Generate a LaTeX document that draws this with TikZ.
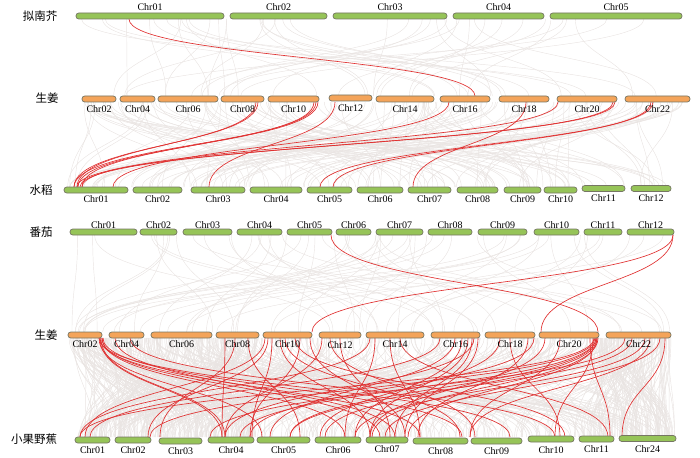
\documentclass[tikz,border=0pt]{standalone}
\usepackage{fontspec}
\setmainfont{Liberation Serif}
\newfontfamily\cjk{Noto Sans CJK SC}
\definecolor{gfill}{RGB}{150,196,88}
\definecolor{ofill}{RGB}{244,164,90}
\definecolor{bline}{RGB}{118,118,100}
\definecolor{glk}{RGB}{233,228,226}
\definecolor{rlk}{RGB}{224,48,48}
\tikzset{
  gbar/.style={draw=bline, fill=gfill, line width=0.7pt, rounded corners=2.8pt, minimum height=6pt, inner sep=0pt},
  obar/.style={draw=bline, fill=ofill, line width=0.7pt, rounded corners=2.8pt, minimum height=6pt, inner sep=0pt},
  lab/.style={font=\fontsize{10}{10}\selectfont, inner sep=0pt},
  sp/.style={font=\cjk\fontsize{11.5}{11.5}\selectfont, inner sep=0pt},
  glink/.style={draw=glk, line width=0.45pt},
  rlink/.style={draw=rlk, line width=0.65pt}
}
\newcommand\chrbar[7]{%
  \pgfmathsetmacro\bw{#3-#2}\pgfmathsetmacro\bc{(#2+#3)/2}%
  \node[#5, minimum width=\bw pt] (#1) at (\bc,#4) {};
  \node[lab] (#1l) at ({\bc},{#4+#7}) {#6};
}
\newcommand\lnk[5]{%
  \draw[#1] (#2,#3) .. controls (#2,{(#3+#5)/2}) and (#4,{(#3+#5)/2}) .. (#4,#5);
}
\begin{document}
\begin{tikzpicture}[x=1pt,y=-1pt]
\useasboundingbox (0,0) rectangle (700,457);
% ---------- gray links ----------
\pgfmathsetseed{11}
\foreach \i in {1,...,45}{
  \pgfmathsetmacro\xa{78+602*rnd}\pgfmathsetmacro\xb{84+604*rnd}
  \lnk{glink}{\xa}{19}{\xb}{96}
}
\foreach \i in {1,...,150}{
  \pgfmathsetmacro\xa{84+604*rnd}\pgfmathsetmacro\xb{66+603*rnd}
  \lnk{glink}{\xa}{102}{\xb}{187}
}
\foreach \i in {1,...,65}{
  \pgfmathsetmacro\xa{72+600*rnd}\pgfmathsetmacro\xb{70+600*rnd}
  \lnk{glink}{\xa}{235}{\xb}{332}
}
\foreach \i in {1,...,330}{
  \pgfmathsetmacro\xa{70+600*rnd}\pgfmathsetmacro\xb{77+597*rnd}
  \lnk{glink}{\xa}{338}{\xb}{437}
}
\foreach \i in {1,...,190}{
  \pgfmathsetmacro\xa{68+190*rnd}\pgfmathsetmacro\xb{76+180*rnd}
  \lnk{glink}{\xa}{338}{\xb}{437}
}
\foreach \i in {1,...,100}{
  \pgfmathsetmacro\xa{590+82*rnd}\pgfmathsetmacro\xb{580+95*rnd}
  \lnk{glink}{\xa}{338}{\xb}{437}
}
% ---------- red links ----------
% Arabidopsis - ginger
\lnk{rlink}{129}{19}{475}{96}
% ginger - rice
\lnk{rlink}{258}{102}{74}{187}
\lnk{rlink}{256}{102}{77}{187}
\lnk{rlink}{316}{102}{74}{187}
\lnk{rlink}{318}{102}{78}{187}
\lnk{rlink}{314}{102}{82}{187}
\lnk{rlink}{335}{102}{209}{187}
\lnk{rlink}{449}{102}{113}{187}
\lnk{rlink}{526}{102}{413}{187}
\lnk{rlink}{558}{102}{82}{187}
\lnk{rlink}{615}{102}{77}{187}
\lnk{rlink}{613}{102}{80}{187}
\lnk{rlink}{653}{102}{320}{187}
\lnk{rlink}{651}{102}{333}{187}
% tomato - ginger
\lnk{rlink}{331}{235}{598}{332}
\lnk{rlink}{673}{235}{312}{332}
\lnk{rlink}{673}{235}{541}{332}
% ginger - banana
\foreach \a/\b in {100/222,101/225,102/380,100/420,103/462,99/510,115/395,130/555,
  235/160,225/222,248/300,265/85,268/148,272/252,280/370,285/460,295/565,300/250,
  310/405,322/225,330/475,340/390,370/80,375/345,390/420,400/608,440/90,455/270,
  462/355,468/370,472/395,478/405,500/320,510/560,528/418,534/250,545/370,560/470,
  594/80,595/150,596/240,597/325,598/372,597/408,593/555,590/610,625/210,632/290,
  645/355,660/385,665/622,650/470,102/345,99/262,474/225,596/290}{
  \lnk{rlink}{\a}{338}{\b}{437}
}
% ---------- species labels ----------
\node[sp] (s1) at (40,16) {拟南芥};
\node[sp] (s2) at (47,98) {生姜};
\node[sp] (s3) at (41,190) {水稻};
\node[sp] (s4) at (41,232) {番茄};
\node[sp] (s5) at (46,335) {生姜};
\node[sp] (s6) at (34,439) {小果野蕉};
% ---------- row 1: Arabidopsis ----------
\chrbar{a1}{76}{224}{16}{gbar}{Chr01}{-9}
\chrbar{a2}{230}{327}{16}{gbar}{Chr02}{-9}
\chrbar{a3}{333}{447}{16}{gbar}{Chr03}{-9}
\chrbar{a4}{453}{544}{16}{gbar}{Chr04}{-9}
\chrbar{a5}{550}{682}{16}{gbar}{Chr05}{-9}
% ---------- row 2: ginger ----------
\chrbar{g02}{82}{116}{99}{obar}{Chr02}{10}
\chrbar{g04}{120}{155}{99}{obar}{Chr04}{10}
\chrbar{g06}{158}{218}{99}{obar}{Chr06}{10}
\chrbar{g08}{221}{264}{99}{obar}{Chr08}{10}
\chrbar{g10}{268}{319}{99}{obar}{Chr10}{10}
\chrbar{g12}{329}{372}{98}{obar}{Chr12}{10}
\chrbar{g14}{376}{434}{99}{obar}{Chr14}{10}
\chrbar{g16}{440}{490}{99}{obar}{Chr16}{10}
\chrbar{g18}{499}{549}{99}{obar}{Chr18}{10}
\chrbar{g20}{557}{617}{99}{obar}{Chr20}{10}
\chrbar{g22}{625}{690}{99}{obar}{Chr22}{10}
% ---------- row 3: rice ----------
\chrbar{r01}{64}{128}{190}{gbar}{Chr01}{9.5}
\chrbar{r02}{133}{182}{190}{gbar}{Chr02}{9.5}
\chrbar{r03}{191}{245}{190}{gbar}{Chr03}{9.5}
\chrbar{r04}{250}{302}{190}{gbar}{Chr04}{9.5}
\chrbar{r05}{307}{352}{190}{gbar}{Chr05}{9}
\chrbar{r06}{357}{403}{190}{gbar}{Chr06}{9}
\chrbar{r07}{408}{451}{190}{gbar}{Chr07}{9}
\chrbar{r08}{457}{498}{190}{gbar}{Chr08}{9.5}
\chrbar{r09}{504}{541}{190}{gbar}{Chr09}{9.5}
\chrbar{r10}{544}{577}{190}{gbar}{Chr10}{9}
\chrbar{r11}{582}{625}{188.5}{gbar}{Chr11}{9.5}
\chrbar{r12}{631}{671}{188.5}{gbar}{Chr12}{9.5}
% ---------- row 4: tomato ----------
\chrbar{t01}{70}{137}{232}{gbar}{Chr01}{-7}
\chrbar{t02}{140}{177}{232}{gbar}{Chr02}{-7}
\chrbar{t03}{183}{232}{232}{gbar}{Chr03}{-7}
\chrbar{t04}{237}{282}{232}{gbar}{Chr04}{-7}
\chrbar{t05}{287}{332}{232}{gbar}{Chr05}{-7}
\chrbar{t06}{336}{371}{232}{gbar}{Chr06}{-7}
\chrbar{t07}{376}{423}{232}{gbar}{Chr07}{-7}
\chrbar{t08}{428}{472}{232}{gbar}{Chr08}{-7}
\chrbar{t09}{478}{527}{232}{gbar}{Chr09}{-6.5}
\chrbar{t10}{534}{579}{232}{gbar}{Chr10}{-7}
\chrbar{t11}{584}{622}{232}{gbar}{Chr11}{-7}
\chrbar{t12}{627}{674}{232}{gbar}{Chr12}{-7}
% ---------- row 5: ginger ----------
\chrbar{h02}{68}{102}{335}{obar}{Chr02}{9.5}
\chrbar{h04}{109}{144}{335}{obar}{Chr04}{9.5}
\chrbar{h06}{151}{212}{335}{obar}{Chr06}{9.5}
\chrbar{h08}{216}{259}{335}{obar}{Chr08}{9.5}
\chrbar{h10}{263}{312}{335}{obar}{Chr10}{9.5}
\chrbar{h12}{319}{361}{335}{obar}{Chr12}{10}
\chrbar{h14}{366}{424}{335}{obar}{Chr14}{9.5}
\chrbar{h16}{431}{480}{335}{obar}{Chr16}{9.5}
\chrbar{h18}{485}{535}{335}{obar}{Chr18}{9.5}
\chrbar{h20}{539}{599}{335}{obar}{Chr20}{9.5}
\chrbar{h22}{606}{671}{335}{obar}{Chr22}{9}
% ---------- row 6: banana ----------
\chrbar{b01}{75}{110}{440}{gbar}{Chr01}{10}
\chrbar{b02}{115}{151}{440}{gbar}{Chr02}{10}
\chrbar{b03}{159}{202}{441}{gbar}{Chr03}{10}
\chrbar{b04}{208}{254}{440}{gbar}{Chr04}{10}
\chrbar{b05}{257}{310}{440}{gbar}{Chr05}{10}
\chrbar{b06}{315}{361}{440}{gbar}{Chr06}{10}
\chrbar{b07}{366}{408}{440}{gbar}{Chr07}{9.5}
\chrbar{b08}{413}{468}{441}{gbar}{Chr08}{10}
\chrbar{b09}{471}{522}{441}{gbar}{Chr09}{10}
\chrbar{b10}{528}{574}{439}{gbar}{Chr10}{11}
\chrbar{b11}{579}{614}{439}{gbar}{Chr11}{10.5}
\chrbar{b24}{619}{676}{438.5}{gbar}{Chr24}{11}
\end{tikzpicture}
\end{document}
